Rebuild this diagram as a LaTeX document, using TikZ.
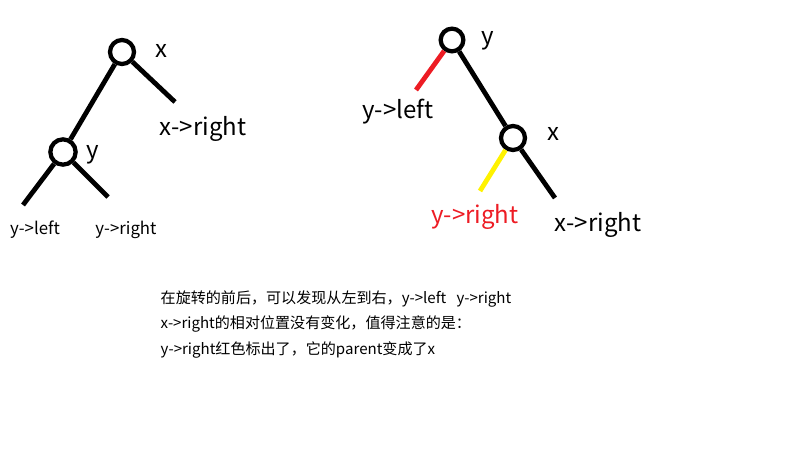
\documentclass[tikz,border=0pt]{standalone}
\usepackage{fontspec}
\setmainfont{Noto Sans CJK SC}
\usepackage{tikz}
\usetikzlibrary{calc}
\definecolor{paintred}{RGB}{237,28,36}
\definecolor{paintyellow}{RGB}{255,242,0}
\tikzset{ tree_node/.style = {circle, draw, line width=3.2pt, minimum size=18pt, inner sep=0pt} }
\tikzset{ branch/.style = {line width=3.6pt} }
\tikzset{ big_label/.style = {font=\fontsize{18}{21}\selectfont} }
\tikzset{ small_label/.style = {font=\fontsize{12.6}{15}\selectfont} }

\begin{document}
\begin{tikzpicture}[x=0.75pt,y=-0.75pt]
        \useasboundingbox (0,0) rectangle (800,449);
        % before rotation
        \node[tree_node] (x1) at (122,52) {};
        \node[tree_node, minimum size=19pt] (y1) at (63,152) {};
        \coordinate (x1r) at (175,102);
        \coordinate (y1l) at (23,205);
        \coordinate (y1r) at (108,197);
        \draw[branch] (x1) -- (y1);
        \draw[branch] (x1) -- (x1r);
        \draw[branch] (y1) -- (y1l);
        \draw[branch] (y1) -- (y1r);
        \node[big_label] (lx1) at (161,51) {x};
        \node[big_label] (ly1) at (93,155) {y};
        \node[big_label] (lx1r) at (203,129) {x->right};
        \node[small_label] (ly1l) at (35,230) {y->left};
        \node[small_label] (ly1r) at (126,230) {y->right};
        % after rotation
        \node[tree_node, minimum size=17pt] (y2) at (452,40) {};
        \node[tree_node] (x2) at (513,138) {};
        \coordinate (y2l) at (416,90);
        \coordinate (x2l) at (480,191);
        \coordinate (x2r) at (555,198);
        \draw[branch, paintred] (y2) -- (y2l);
        \draw[branch] (y2) -- (x2);
        \draw[branch, paintyellow] (x2) -- (x2l);
        \draw[branch] (x2) -- (x2r);
        \node[big_label] (ly2) at (488,41) {y};
        \node[big_label] (lx2) at (553,134) {x};
        \node[big_label] (ly2l) at (398,112) {y->left};
        \node[big_label, text=paintred] (ly2r) at (475,217) {y->right};
        \node[big_label] (lx2r) at (598,225) {x->right};
        % note
        \node[anchor=north west, align=left, font=\fontsize{11.3}{19}\selectfont] (note) at (156,286)
            {在旋转的前后，可以发现从左到右，y->left\ \ \ y->right\\
             x->right的相对位置没有变化，值得注意的是：\\
             y->right红色标出了，它的parent变成了x};
    \end{tikzpicture}
\end{document}
